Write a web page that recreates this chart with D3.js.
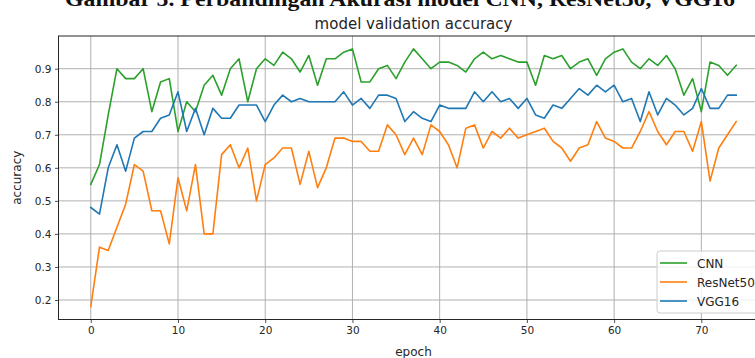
<!DOCTYPE html>
<html>
<head>
<meta charset="utf-8">
<script src="https://cdn.jsdelivr.net/npm/d3@7"></script>
<style>
  body { margin: 0; background: #fff; }
  svg { display: block; font-family: "DejaVu Sans", sans-serif; }
</style>
</head>
<body>
<div id="chart"></div>
<script>
// valeurs (epoch 0 -> 74)
const cnn = [0.55,0.61,0.76,0.90,0.87,0.87,0.90,0.77,0.86,0.87,
             0.71,0.80,0.77,0.85,0.88,0.82,0.90,0.93,0.80,0.90,
             0.93,0.91,0.95,0.93,0.89,0.94,0.85,0.93,0.93,0.95,
             0.96,0.86,0.86,0.90,0.91,0.87,0.92,0.96,0.93,0.90,
             0.92,0.92,0.91,0.89,0.93,0.95,0.93,0.94,0.93,0.92,
             0.92,0.85,0.94,0.93,0.94,0.90,0.92,0.93,0.88,0.93,
             0.95,0.96,0.92,0.90,0.93,0.91,0.94,0.90,0.82,0.87,
             0.77,0.92,0.91,0.88,0.91];
const resnet50 = [0.18,0.36,0.35,0.42,0.49,0.61,0.59,0.47,0.47,0.37,
                  0.57,0.47,0.61,0.40,0.40,0.64,0.67,0.60,0.66,0.50,
                  0.61,0.63,0.66,0.66,0.55,0.65,0.54,0.60,0.69,0.69,
                  0.68,0.68,0.65,0.65,0.73,0.70,0.64,0.69,0.64,0.73,
                  0.71,0.67,0.60,0.72,0.73,0.66,0.71,0.69,0.72,0.69,
                  0.70,0.71,0.72,0.68,0.66,0.62,0.66,0.67,0.74,0.69,
                  0.68,0.66,0.66,0.71,0.77,0.71,0.67,0.71,0.71,0.65,
                  0.74,0.56,0.66,0.70,0.74];
const vgg16 = [0.48,0.46,0.60,0.67,0.59,0.69,0.71,0.71,0.75,0.76,
               0.83,0.71,0.78,0.70,0.78,0.75,0.75,0.79,0.79,0.79,
               0.74,0.79,0.82,0.80,0.81,0.80,0.80,0.80,0.80,0.83,
               0.79,0.81,0.78,0.82,0.82,0.81,0.74,0.77,0.75,0.74,
               0.79,0.78,0.78,0.78,0.83,0.80,0.83,0.80,0.81,0.78,
               0.81,0.76,0.75,0.79,0.78,0.81,0.84,0.82,0.85,0.83,
               0.85,0.80,0.81,0.74,0.83,0.76,0.81,0.79,0.76,0.78,
               0.84,0.78,0.78,0.82,0.82];

const seriesNames = ["CNN", "ResNet50", "VGG16"];
const seriesValues = [cnn, resnet50, vgg16];
const couleurs = ["#2ca02c", "#ff7f0e", "#1f77b4"];
const xTicks = [0, 10, 20, 30, 40, 50, 60, 70];
const yTicks = [0.2, 0.3, 0.4, 0.5, 0.6, 0.7, 0.8, 0.9];

const largeur = 755, hauteur = 358;
const marge = { left: 58.5, right: 768.5, top: 36, bottom: 319.5 };

const svg = d3.select("#chart").append("svg")
    .attr("width", largeur).attr("height", hauteur);

// légende du document, coupée en haut
svg.append("text")
    .attr("x", 65).attr("y", 6)
    .attr("textLength", 670).attr("lengthAdjust", "spacingAndGlyphs")
    .style("font-family", "'Liberation Serif', serif")
    .style("font-weight", "bold")
    .style("font-size", "22px")
    .attr("fill", "#111")
    .text("Gambar 5. Perbandingan Akurasi model CNN, ResNet50, VGG16");

const nb = cnn.length;
const x = d3.scaleLinear()
    .domain([-(nb - 1) * 0.05, (nb - 1) * 1.05])
    .range([marge.left, marge.right]);
const ymin = d3.min(seriesValues.flat()), ymax = d3.max(seriesValues.flat());
const y = d3.scaleLinear()
    .domain([ymin - (ymax - ymin) * 0.05, ymax + (ymax - ymin) * 0.05])
    .range([marge.bottom, marge.top]);

// grille
svg.append("g").selectAll("line").data(xTicks).join("line")
    .attr("x1", d => x(d)).attr("x2", d => x(d))
    .attr("y1", marge.top).attr("y2", marge.bottom)
    .attr("stroke", "#b0b0b0").attr("stroke-width", 1);
svg.append("g").selectAll("line").data(yTicks).join("line")
    .attr("x1", marge.left).attr("x2", marge.right)
    .attr("y1", d => y(d)).attr("y2", d => y(d))
    .attr("stroke", "#b0b0b0").attr("stroke-width", 1);

// courbes
const ligne = d3.line().x((d, i) => x(i)).y(d => y(d));
seriesValues.forEach((vals, k) => {
    svg.append("path")
        .datum(vals)
        .attr("d", ligne)
        .attr("fill", "none")
        .attr("stroke", couleurs[k])
        .attr("stroke-width", 1.6)
        .attr("stroke-linejoin", "round")
        .attr("stroke-linecap", "square");
});

// axes
const axeX = svg.append("g")
    .attr("transform", "translate(0," + marge.bottom + ")")
    .call(d3.axisBottom(x).tickValues(xTicks).tickSize(3.5).tickPadding(3.5).tickFormat(d3.format("d")));
const axeY = svg.append("g")
    .attr("transform", "translate(" + marge.left + ",0)")
    .call(d3.axisLeft(y).tickValues(yTicks).tickSize(3.5).tickPadding(3.5).tickFormat(d3.format(".1f")));
[axeX, axeY].forEach(a => {
    a.select(".domain").remove();
    a.selectAll("text").style("font-size", "10.5px").attr("fill", "#262626")
        .style("font-family", "'DejaVu Sans', sans-serif");
    a.selectAll("line").attr("stroke", "#262626").attr("stroke-width", 0.8);
});

// cadre
svg.append("rect")
    .attr("x", marge.left).attr("y", marge.top)
    .attr("width", marge.right - marge.left).attr("height", marge.bottom - marge.top)
    .attr("fill", "none").attr("stroke", "#262626").attr("stroke-width", 1);

// titres
svg.append("text")
    .attr("x", (marge.left + marge.right) / 2).attr("y", 29)
    .attr("text-anchor", "middle")
    .style("font-size", "15px").attr("fill", "#262626")
    .text("model validation accuracy");
svg.append("text")
    .attr("x", (marge.left + marge.right) / 2).attr("y", 356)
    .attr("text-anchor", "middle")
    .style("font-size", "12px").attr("fill", "#262626")
    .text("epoch");
svg.append("text")
    .attr("transform", "translate(21," + ((marge.top + marge.bottom) / 2) + ") rotate(-90)")
    .attr("text-anchor", "middle")
    .style("font-size", "12px").attr("fill", "#262626")
    .text("accuracy");

// légende
const leg = svg.append("g").attr("transform", "translate(657,251)");
leg.append("rect")
    .attr("x", 0).attr("y", 0).attr("width", 110).attr("height", 62)
    .attr("rx", 3)
    .attr("fill", "#fff").attr("fill-opacity", 0.8)
    .attr("stroke", "#cccccc").attr("stroke-width", 1);
seriesNames.forEach((nom, k) => {
    const ly = 12 + k * 19;
    leg.append("line")
        .attr("x1", 3).attr("x2", 30).attr("y1", ly).attr("y2", ly)
        .attr("stroke", couleurs[k]).attr("stroke-width", 1.6);
    leg.append("text")
        .attr("x", 40).attr("y", ly + 4.5)
        .style("font-size", "12px").attr("fill", "#262626")
        .text(nom);
});
</script>
</body>
</html>
